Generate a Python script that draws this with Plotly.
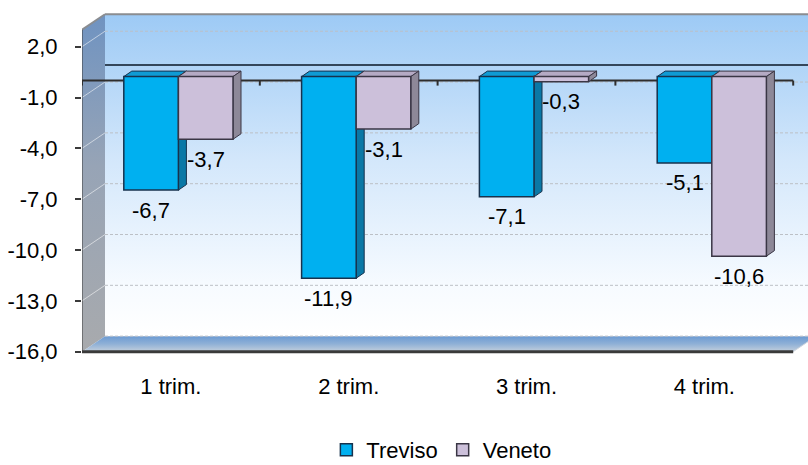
import plotly.graph_objects as go

# ---- data ----
categories = ["1 trim.", "2 trim.", "3 trim.", "4 trim."]
treviso = [-6.7, -11.9, -7.1, -5.1]
veneto = [-3.7, -3.1, -0.3, -10.6]
y_ticks = [-16, -13, -10, -7, -4, -1, 2]

# ---- geometry of the pseudo-3D box (axis units) ----
PX_X = 177.8          # pixels per category
PX_Y = 16.94          # pixels per value unit
X_RANGE = [-0.5, -0.5 + 726 / PX_X]
Y_RANGE = [(80.6 - 360) / PX_Y, (80.6 - 10) / PX_Y]
FLOOR = -16
WALL_TOP = 3.0
LEFT, RIGHT = -0.5, 3.5
DX = 23 / PX_X        # depth offset of the back wall
DY = 15.5 / PX_Y
FAR = RIGHT + DX + 0.3

BAR_W = 54.6 / PX_X
SHIFT_X = 7.5 / PX_X  # bars sit a little inside the box
SHIFT_Y = 4 / PX_Y
BAR_DX = 8 / PX_X     # bar depth
BAR_DY = 5.5 / PX_Y

FONT = "Liberation Sans, Arial, sans-serif"
FS = 22

fig = go.Figure()


def poly(xs, ys, yaxis, fillcolor=None, grad=None, line_color="rgba(0,0,0,0)", width=0):
    kw = dict(x=xs + [xs[0]], y=ys + [ys[0]], mode="lines", fill="toself",
              line=dict(color=line_color, width=width), showlegend=False,
              hoverinfo="skip", yaxis=yaxis)
    if grad is not None:
        kw["fillgradient"] = dict(type="vertical", colorscale=grad)
    else:
        kw["fillcolor"] = fillcolor
    fig.add_trace(go.Scatter(**kw))


def segs(pairs, yaxis, color, width, dash="solid"):
    xs, ys = [], []
    for (x0, y0), (x1, y1) in pairs:
        xs += [x0, x1, None]
        ys += [y0, y1, None]
    fig.add_trace(go.Scatter(x=xs, y=ys, mode="lines", showlegend=False, hoverinfo="skip",
                             line=dict(color=color, width=width, dash=dash), yaxis=yaxis))


# ---- walls and floor (bottom layer) ----
poly([LEFT + DX, FAR, FAR, LEFT + DX],
     [FLOOR + DY, FLOOR + DY, WALL_TOP + DY, WALL_TOP + DY], "y",
     grad=[[0, "#ffffff"], [0.15, "#f7fbff"], [0.55, "#d3e7fb"], [1, "#9dcaf5"]])
poly([LEFT, LEFT + DX, LEFT + DX, LEFT],
     [FLOOR, FLOOR + DY, WALL_TOP + DY, WALL_TOP], "y",
     grad=[[0, "#a8aaad"], [0.55, "#97a4b6"], [1, "#6f93c1"]])
segs([((LEFT, v), (LEFT + DX, v + DY)) for v in y_ticks[1:]], "y", "rgba(255,255,255,0.55)", 1)
poly([LEFT, RIGHT, RIGHT + DX, LEFT + DX],
     [FLOOR, FLOOR, FLOOR + DY, FLOOR + DY], "y",
     grad=[[0, "#c3cfdc"], [0.5, "#8fb0d6"], [1, "#6b9ad2"]])
segs([((LEFT + DX, v + DY), (FAR, v + DY)) for v in y_ticks], "y", "#bcc0c6", 1, "3px,2px")
segs([((LEFT + DX, DY), (FAR, DY))], "y", "#34465a", 2)
segs([((LEFT, WALL_TOP), (LEFT + DX, WALL_TOP + DY)), ((LEFT + DX, WALL_TOP + DY), (FAR, WALL_TOP + DY))],
     "y", "#8a8d91", 2)
segs([((RIGHT, FLOOR), (RIGHT + DX, FLOOR + DY))], "y", "#d0d6de", 1)
segs([((LEFT, FLOOR), (LEFT, WALL_TOP))], "y", "#3a3a3a", 1)
segs([((LEFT, FLOOR), (RIGHT, FLOOR))], "y", "#3a3a3a", 3)

# ---- category axis line at zero with tick marks ----
tick_len = 5 / PX_Y
segs([((LEFT, 0), (RIGHT, 0))] + [((LEFT + k, 0), (LEFT + k, -tick_len)) for k in range(len(categories) + 1)],
     "y2", "#2e2e2e", 2)

# ---- bar tops and sides ----
series = [
    ("Treviso", treviso, -BAR_W + SHIFT_X, "#00b0f0", "#0f9bd4", "#0a78a6", "#17324d"),
    ("Veneto", veneto, SHIFT_X, "#ccc0da", "#b5aac4", "#8d8898", "#3a3645"),
]
for i in range(len(categories)):
    for name, vals, off, front, top, side, edge in series:
        v = vals[i]
        xl = i + off
        xr = xl + BAR_W
        b = SHIFT_Y
        poly([xl, xr, xr + BAR_DX, xl + BAR_DX], [b, b, b + BAR_DY, b + BAR_DY], "y2",
             fillcolor=top, line_color=edge, width=1)
        poly([xr, xr + BAR_DX, xr + BAR_DX, xr], [b, b + BAR_DY, b + v + BAR_DY, b + v], "y2",
             fillcolor=side, line_color=edge, width=1)

# ---- bar fronts ----
for name, vals, off, front, top, side, edge in series:
    fig.add_trace(go.Bar(
        name=name, x=list(range(len(categories))), y=vals, base=SHIFT_Y,
        width=BAR_W, offset=off, marker=dict(color=front, line=dict(color=edge, width=1.5)),
        yaxis="y3", hoverinfo="skip",
    ))

# ---- value labels ----
annotations = []
for name, vals, off, *_ in series:
    for i, v in enumerate(vals):
        annotations.append(dict(
            x=i + off + BAR_W / 2, y=SHIFT_Y + v, xref="x", yref="y",
            text=f"{v:.1f}".replace(".", ","), showarrow=False,
            yanchor="middle", xanchor="center", yshift=-20,
            font=dict(family=FONT, size=FS, color="black"),
        ))

fig.update_layout(
    width=808, height=465,
    margin=dict(l=82, r=0, t=10, b=105, autoexpand=False),
    paper_bgcolor="white", plot_bgcolor="rgba(0,0,0,0)",
    font=dict(family=FONT, size=FS, color="black"),
    barmode="overlay",
    annotations=annotations,
    xaxis=dict(range=X_RANGE, tickvals=list(range(len(categories))), ticktext=categories,
               showgrid=False, zeroline=False, showline=False, ticks="",
               ticklabelstandoff=11, fixedrange=True),
    yaxis=dict(range=Y_RANGE, tickvals=y_ticks,
               ticktext=[f"{v:.1f}".replace(".", ",") for v in y_ticks],
               ticks="outside", ticklen=6, tickwidth=1.5, tickcolor="#3a3a3a",
               showgrid=False, zeroline=False, showline=False,
               ticklabelstandoff=13, fixedrange=True),
    yaxis2=dict(overlaying="y", range=Y_RANGE, visible=False, fixedrange=True),
    yaxis3=dict(overlaying="y", range=Y_RANGE, visible=False, fixedrange=True),
    legend=dict(orientation="h", x=0.495, xanchor="center", y=-0.257, yanchor="middle",
                font=dict(family=FONT, size=FS), traceorder="normal"),
)

fig.write_html("out.html")
